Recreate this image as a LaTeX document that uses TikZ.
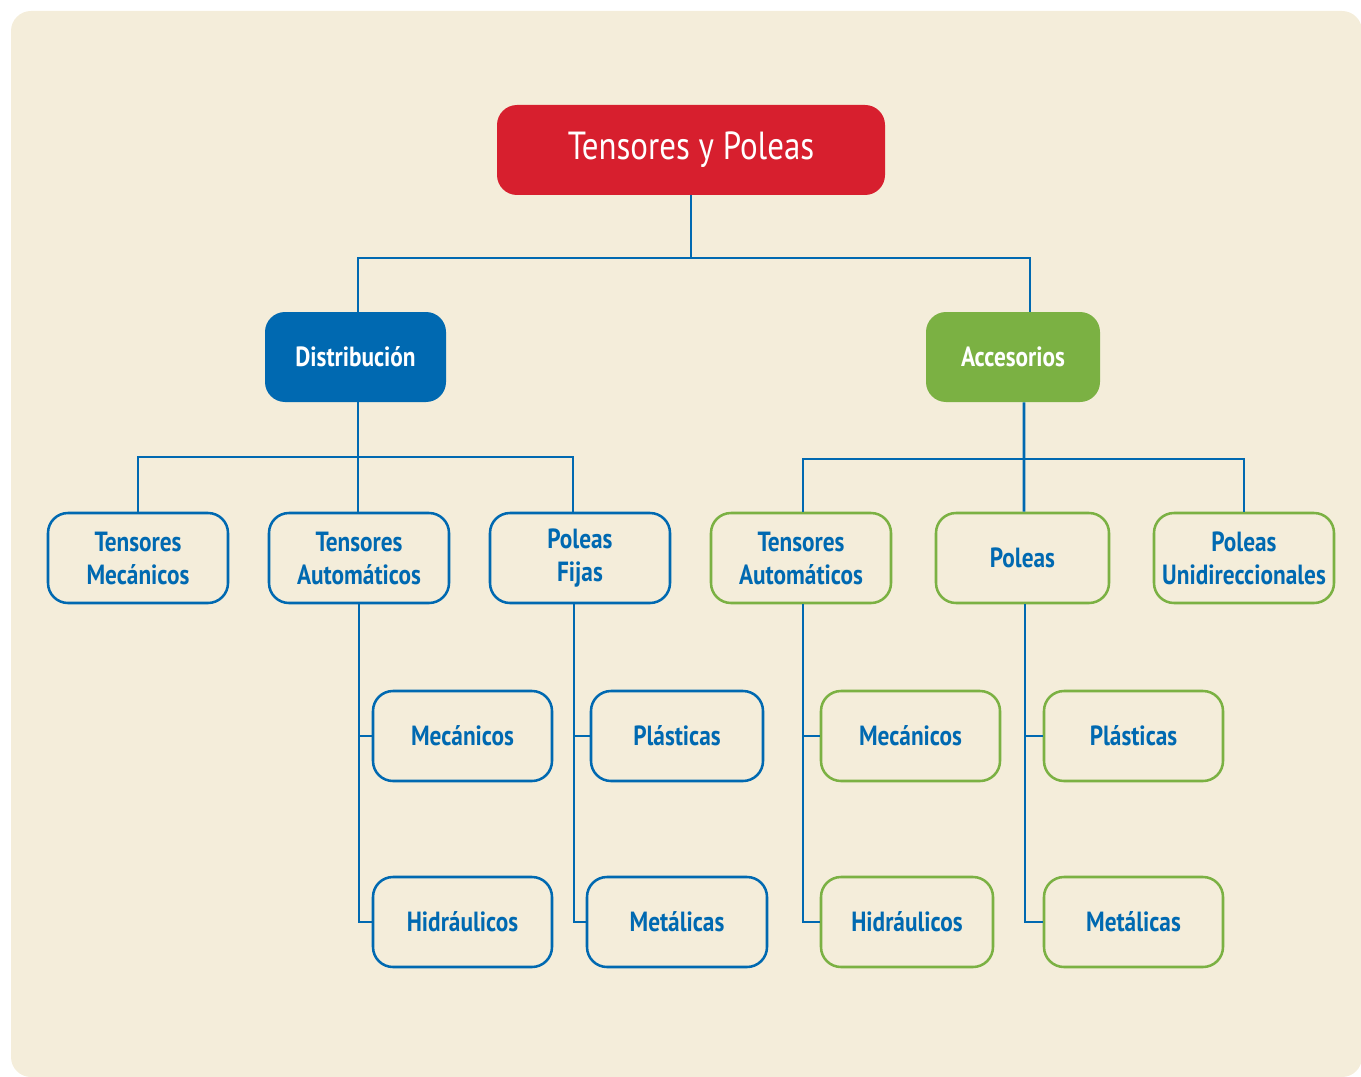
\documentclass[tikz,border=0pt]{standalone}
\usepackage{fontspec}
\setmainfont{PT Sans}[FakeStretch=0.84]
\definecolor{bgc}{HTML}{F4EDDA}
\definecolor{redc}{HTML}{D71F2E}
\definecolor{bluec}{HTML}{0069B1}
\definecolor{greenc}{HTML}{7BB143}
\tikzset{
  conn/.style={draw=bluec, line width=2pt},
  rootbox/.style={fill=redc, text=white, rounded corners=15pt, minimum width=388*0.75pt, minimum height=90*0.75pt, inner sep=0pt, font=\fontsize{29.4}{34}\selectfont},
  headbox/.style={rounded corners=15pt, text=white, minimum height=90*0.75pt, inner sep=0pt, font=\bfseries\fontsize{20.8}{25}\selectfont},
  bluebox/.style={draw=bluec, line width=1.9pt, rounded corners=15pt, text=bluec, minimum width=180*0.75pt, minimum height=90*0.75pt, inner sep=0pt, align=center, font=\bfseries\fontsize{20.8}{24.75}\selectfont},
  greenbox/.style={bluebox, draw=greenc},
}
\begin{document}
\begin{tikzpicture}[x=0.75pt,y=-0.75pt]
\useasboundingbox (0,0) rectangle (1361,1077);
\fill[bgc, rounded corners=15pt] (11,11) rectangle (1362,1077);
% top
\node[rootbox] (root) at (691,150) {Tensores y Poleas};
\node[headbox, fill=bluec, minimum width=181*0.75pt] (dist) at (355.5,357) {Distribución};
\node[headbox, fill=greenc, minimum width=174*0.75pt] (acc) at (1013,357) {Accesorios};
% level 2
\node[bluebox] (tM) at (138,558) {Tensores\\Mecánicos};
\node[bluebox] (tA) at (359,558) {Tensores\\Automáticos};
\node[bluebox] (pF) at (580,558) {Poleas\\Fijas};
\node[greenbox] (tB) at (801,558) {Tensores\\Automáticos};
\node[greenbox, minimum width=173*0.75pt] (pol) at (1022.5,558) {Poleas};
\node[greenbox] (uni) at (1244,558) {Poleas\\Unidireccionales};
% level 3
\node[bluebox, minimum width=179*0.75pt] (mecA) at (462.5,736) {Mecánicos};
\node[bluebox, minimum width=179*0.75pt] (hidA) at (462.5,922) {Hidráulicos};
\node[bluebox, minimum width=172*0.75pt] (plaA) at (677,736) {Plásticas};
\node[bluebox] (metA) at (677,922) {Metálicas};
\node[greenbox, minimum width=179*0.75pt] (mecB) at (910.5,736) {Mecánicos};
\node[greenbox, minimum width=172*0.75pt] (hidB) at (907,922) {Hidráulicos};
\node[greenbox, minimum width=179*0.75pt] (plaB) at (1133.5,736) {Plásticas};
\node[greenbox, minimum width=179*0.75pt] (metB) at (1133.5,922) {Metálicas};
% junction coordinates
\coordinate (j0) at (691,258);
\coordinate (j1) at (358,457);
\coordinate (j2) at (1024,459);
\coordinate (distN) at ([xshift=1.9pt]dist.north);
\coordinate (distS) at ([xshift=1.9pt]dist.south);
\coordinate (accN) at ([xshift=12.75pt]acc.north);
\coordinate (accS) at ([xshift=8.25pt]acc.south);
\coordinate (pFN) at ([xshift=-5.25pt]pF.north);
\coordinate (pFS) at ([xshift=-4.5pt]pF.south);
\coordinate (tBN) at ([xshift=1.5pt]tB.north);
\coordinate (tBS) at ([xshift=1.5pt]tB.south);
\coordinate (polN) at ([xshift=1.1pt]pol.north);
\coordinate (polS) at ([xshift=1.9pt]pol.south);
% connectors
\draw[conn] (root.south) -- (j0);
\draw[conn] (distN) |- (j0) -| (accN);
\draw[conn] (distS) -- (distS |- tA.north);
\draw[conn] (tM.north) |- (j1) -| (pFN);
\draw[conn] (accS) -- (polN);
\draw[conn] (tBN) |- (j2) -| (uni.north);
\draw[conn] (tA.south) |- (hidA.west);
\draw[conn] (tA.south |- mecA.west) -- (mecA.west);
\draw[conn] (pFS) |- (metA.west);
\draw[conn] (pFS |- plaA.west) -- (plaA.west);
\draw[conn] (tBS) |- (hidB.west);
\draw[conn] (tBS |- mecB.west) -- (mecB.west);
\draw[conn] (polS) |- (metB.west);
\draw[conn] (polS |- plaB.west) -- (plaB.west);
\end{tikzpicture}
\end{document}
